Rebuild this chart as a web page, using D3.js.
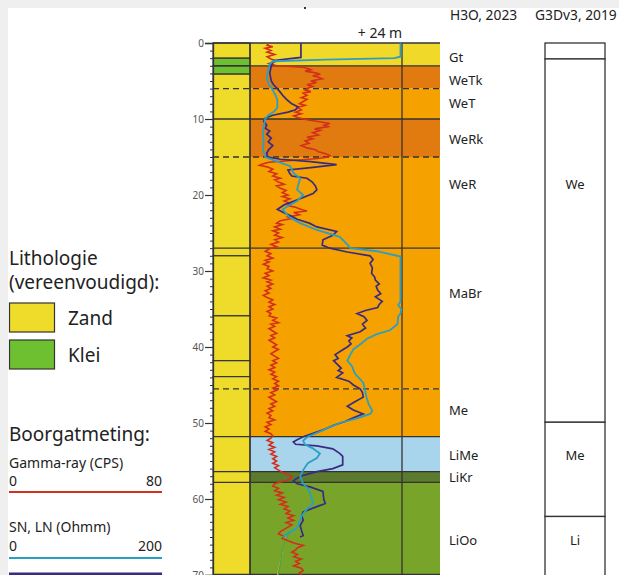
<!DOCTYPE html>
<html><head><meta charset="utf-8">
<script src="https://cdn.jsdelivr.net/npm/d3@7"></script>
<style>
html,body{margin:0;padding:0;background:#fff;}
svg{display:block;font-family:"Noto Sans","Open Sans",sans-serif;}
</style></head>
<body>
<svg id="c" width="619" height="575"></svg>
<script>
// ---------- DATA ----------
const depthTicks = [0,10,20,30,40,50,60,70];
const formations = [
  {name:"Gt",   top:0,    bot:3,    color:"#f1d92a", label:57},
  {name:"WeTk", top:3,    bot:6,    color:"#e17a0f", label:80},
  {name:"WeT",  top:6,    bot:10,   color:"#f5a200", label:103},
  {name:"WeRk", top:10,   bot:15,   color:"#e17a0f", label:139},
  {name:"WeR",  top:15,   bot:27,   color:"#f5a200", label:184},
  {name:"MaBr", top:27,   bot:45.5, color:"#f5a200", label:293},
  {name:"Me",   top:45.5, bot:51.8, color:"#f5a200", label:410},
  {name:"LiMe", top:51.8, bot:56.4, color:"#a9d5ec", label:455},
  {name:"LiKr", top:56.4, bot:57.8, color:"#5b7a2e", label:477},
  {name:"LiOo", top:57.8, bot:70,   color:"#79a42a", label:540}
];
const solidBounds = [3,10,27,51.8,56.4,57.8];
const dashedBounds = [6,15,45.5];
const lithology = [
  {top:0,bot:2.0,type:"Zand"},{top:2.0,bot:3.0,type:"Klei"},{top:3.0,bot:4.1,type:"Klei"},
  {top:4.1,bot:28,type:"Zand"},{top:28,bot:35.9,type:"Zand"},{top:35.9,bot:41.8,type:"Zand"},
  {top:41.8,bot:43.9,type:"Zand"},{top:43.9,bot:70,type:"Zand"}
];
const g3d = [
  {top:0,bot:2.1,name:"",lab:null},
  {top:2.1,bot:49.9,name:"We",lab:184},
  {top:49.9,bot:62.3,name:"Me",lab:455},
  {top:62.3,bot:72,name:"Li",lab:540}
];
// Gamma-ray (CPS) [depth m, value]
const gamma = [[0,10],[0.3,9],[0.5,12],[0.7,8],[1.0,11],[1.2,9],[1.5,13],[1.8,9],[2.1,11],[2.4,14],[2.7,10],[3.0,14],
[3.2,28],[3.5,32],[3.7,29],[3.9,34],[4.1,37],[4.3,33],[4.5,36],[4.7,38],[5.0,32],[5.2,35],[5.5,30],[5.7,33],[5.9,31],
[6.2,29],[6.4,32],[6.6,28],[6.9,30],[7.2,27],[7.4,30],[7.7,28],[8.0,26],[8.2,29],[8.5,25],[8.8,27],[9.1,24],[9.3,27],[9.6,23],[9.8,25],
[10.1,30],[10.3,35],[10.6,42],[10.8,39],[11.0,41],[11.3,34],[11.5,37],[11.8,33],[12.1,36],[12.4,30],[12.6,33],[12.9,29],[13.2,31],[13.5,27],[13.8,30],[14.0,34],[14.3,36],[14.5,39],[14.8,42],[15.0,41],
[15.2,36],[15.5,20],[15.7,10],[15.9,7],[16.1,5],[16.3,9],[16.6,12],[16.9,10],[17.2,14],[17.5,12],[17.8,16],[18.0,13],[18.3,15],[18.6,18],[18.8,14],[19.1,16],[19.4,19],[19.7,17],[20.0,20],[20.2,17],[20.5,21],[20.8,18],[21.1,21],[21.4,20],[21.6,24],[21.9,27],[22.1,30],[22.3,23],[22.6,26],[22.9,20],[23.1,22],[23.4,16],[23.7,14],[23.9,17],[24.2,13],[24.5,16],[24.7,12],[25.0,15],[25.3,13],[25.6,17],[25.9,13],[26.2,15],[26.5,11],[26.8,14],
[27.1,10],[27.4,8],[27.7,11],[28.0,9],[28.3,12],[28.6,8],[28.8,10],[29.1,7],[29.4,10],[29.7,9],[30.0,12],[30.3,8],[30.6,10],[30.9,7],[31.2,11],[31.4,9],[31.7,12],[32.0,9],[32.3,11],[32.6,8],[32.9,10],[33.2,7],[33.5,9],[33.8,12],[34.1,10],[34.4,13],[34.7,10],[35.0,12],[35.3,9],[35.6,11],[35.9,10],[36.2,14],[36.5,12],[36.8,15],[37.0,11],[37.3,13],[37.6,10],[37.9,12],[38.2,14],[38.5,11],[38.8,13],[39.1,10],[39.4,12],[39.7,14],[40.0,12],[40.3,15],[40.6,13],[40.9,11],[41.2,13],[41.5,15],[41.8,12],[42.1,14],[42.4,11],[42.7,13],[43.0,10],[43.3,13],[43.6,11],[43.9,14],[44.2,12],[44.5,15],[44.8,13],[45.1,15],[45.4,12],[45.7,14],[46.0,11],[46.3,13],[46.6,10],[46.9,12],[47.2,14],[47.5,11],[47.8,13],[48.1,10],[48.4,12],[48.7,9],[49.0,11],[49.3,10],[49.6,13],[49.9,9],[50.2,11],[50.5,8],[50.8,10],[51.1,8],[51.4,11],[51.7,12],
[52.0,11],[52.3,9],[52.6,12],[52.9,10],[53.2,13],[53.5,10],[53.8,13],[54.1,11],[54.4,14],[54.7,12],[55.0,14],[55.3,12],[55.6,15],[55.9,13],[56.2,15],[56.5,17],[56.8,20],[57.1,22],[57.4,21],[57.7,17],[58.0,13],[58.3,12],[58.6,15],[58.9,13],[59.2,17],[59.5,14],[59.8,18],[60.1,15],[60.4,19],[60.7,16],[61.0,20],[61.3,18],[61.6,21],[61.9,19],[62.2,23],[62.5,20],[62.8,23],[63.1,19],[63.4,22],[63.7,20],[64.0,18],[64.3,16],[64.6,15],[64.9,18],[65.2,17],[65.5,20],[65.8,23],[66.1,28],[66.4,25],[66.7,24],[67.0,22],[67.3,25],[67.6,23],[67.9,27],[68.2,24],[68.5,26],[68.8,23],[69.1,27],[69.4,28],[69.7,26],[70,27]];
// Long normal resistivity LN (Ohmm)
const ln = [[0,67],[1.9,67],[2.1,50],[2.3,32],[2.6,30],[3.0,28],[3.5,27],[4.0,26],[4.5,27],[5.0,28],[5.5,31],[6.0,36],[6.5,40],[7.0,44],[7.5,49],[8.0,55],[8.4,63],[8.8,60],[9.1,50],[9.5,30],[9.9,20],[10.3,18],[10.8,22],[11.2,20],[11.6,26],[12.0,22],[12.5,28],[13.0,24],[13.5,30],[14.0,25],[14.5,22],[15.0,23],[15.3,40],[15.6,80],[16.0,114],[16.4,80],[16.7,50],[17.1,52],[17.5,55],[17.8,75],[18.3,82],[18.8,86],[19.3,88],[19.8,83],[20.5,66],[21.3,45],[21.9,36],[22.3,44],[22.8,55],[23.2,62],[23.7,78],[24.2,88],[24.8,114],[25.3,109],[25.9,96],[26.6,95],[27.0,105],[27.5,128],[28.0,158],[28.5,162],[29.0,158],[29.6,161],[30.3,160],[30.8,164],[31.2,165],[31.7,170],[32.0,166],[32.5,168],[33.0,172],[33.4,165],[34.0,174],[34.4,170],[34.8,168],[35.2,152],[35.6,141],[36.0,150],[36.5,154],[37.0,148],[37.5,152],[38.0,145],[38.5,128],[38.8,134],[39.2,130],[39.6,133],[40.0,128],[40.5,120],[41.0,112],[41.5,116],[41.8,110],[42.2,114],[42.8,120],[43.1,116],[43.4,122],[44.0,114],[44.5,130],[45.0,136],[45.5,145],[46.0,148],[46.6,149],[47.2,138],[47.8,128],[48.3,136],[48.8,149],[49.3,136],[49.8,125],[50.3,110],[50.8,99],[51.3,85],[51.8,70],[52.2,62],[52.5,57],[52.8,60],[53.0,88],[53.4,109],[54.0,118],[54.4,122],[55.5,122],[56.0,109],[56.4,88],[57.0,66],[57.6,57],[58.0,62],[58.4,79],[59.0,96],[60.0,97],[60.6,99],[61.0,88],[61.7,70],[62.2,68],[62.8,70],[63.5,66],[64.2,68],[64.8,70],[65.0,66]];
// Short normal resistivity SN (Ohmm)
const sn = [[0,198],[1.8,198],[2.0,190],[2.2,100],[2.4,30],[2.8,26],[3.5,24],[4.5,22],[5.5,25],[6.0,29],[7.0,34],[7.5,36],[8.5,36],[9.0,32],[9.5,24],[10.0,20],[11,18],[12,17],[13,18],[14,17],[15,20],[15.6,36],[16.2,53],[17.1,57],[17.8,66],[18.5,64],[19.3,62],[20.0,70],[20.8,62],[21.5,49],[21.9,43],[22.5,48],[23.0,53],[23.7,66],[24.6,88],[25.5,118],[26.5,128],[27.0,132],[27.4,167],[28.1,198],[34.0,198],[34.5,195],[35.0,199],[35.6,198],[36.0,195],[37.0,194],[37.8,184],[38.3,167],[38.9,154],[39.5,147],[40.3,136],[41.0,132],[41.8,128],[42.5,134],[43.5,138],[44.7,149],[45.5,151],[46.5,153],[47.5,156],[48.4,161],[48.8,158],[49.4,141],[50.0,118],[50.5,106],[51.0,95],[51.8,76],[52.3,70],[52.8,72],[53.3,82],[54.0,92],[54.6,88],[55.3,76],[56.2,70],[57.0,66],[58.0,70],[58.6,76],[59.5,80],[60.6,83],[61.2,76],[62.2,68],[62.8,66],[63.8,62],[64.5,50],[65.0,43]];
const extraGreen = [[64.3,52],[65.5,46],[67,42],[68.5,40],[70,37]];
const extraOrange = [[64.8,48],[66.2,44],[67.8,41],[70,36]];
const gammaDomain = [0,80];
const resDomain = [0,200];

// ---------- DRAW ----------
const svg = d3.select("#c");
const y = d3.scaleLinear().domain([0,70]).range([43,575]);
const xG = d3.scaleLinear().domain(gammaDomain).range([250,402]);
const xR = d3.scaleLinear().domain(resDomain).range([250,402]);
const axisX = 213, lithR = 250, logR = 402, panelR = 440;

// frame
svg.append("rect").attr("x",0).attr("y",0).attr("width",619).attr("height",575).attr("fill","#fff");
svg.append("rect").attr("x",0).attr("y",0).attr("width",619).attr("height",8).attr("fill","#efefef");
svg.append("rect").attr("x",0).attr("y",0).attr("width",8).attr("height",575).attr("fill","#efefef");
svg.append("rect").attr("x",304).attr("y",7).attr("width",2).attr("height",2).attr("fill","#333");

// formation bands
svg.selectAll("rect.form").data(formations).join("rect").attr("class","form")
  .attr("x",lithR).attr("y",d=>y(d.top)).attr("width",panelR-lithR).attr("height",d=>y(d.bot)-y(d.top))
  .attr("fill",d=>d.color);
// lithology
const lithCol = {Zand:"#efdc2a", Klei:"#6ec030"};
svg.selectAll("rect.lith").data(lithology).join("rect").attr("class","lith")
  .attr("x",axisX).attr("y",d=>y(d.top)).attr("width",lithR-axisX).attr("height",d=>y(d.bot)-y(d.top))
  .attr("fill",d=>lithCol[d.type]).attr("stroke","#333").attr("stroke-width",1.2);

// boundaries
svg.selectAll("line.sb").data(solidBounds).join("line").attr("class","sb")
  .attr("x1",axisX).attr("x2",panelR).attr("y1",d=>y(d)).attr("y2",d=>y(d))
  .attr("stroke","#333").attr("stroke-width",1.3);
svg.selectAll("line.db").data(dashedBounds).join("line").attr("class","db")
  .attr("x1",axisX).attr("x2",panelR).attr("y1",d=>y(d)).attr("y2",d=>y(d))
  .attr("stroke","#333").attr("stroke-width",1.3).attr("stroke-dasharray","6,4");
svg.append("line").attr("x1",axisX).attr("x2",panelR).attr("y1",y(0)).attr("y2",y(0)).attr("stroke","#333").attr("stroke-width",1.3);
svg.append("line").attr("x1",axisX).attr("x2",panelR).attr("y1",y(70)-0.5).attr("y2",y(70)-0.5).attr("stroke","#333").attr("stroke-width",1.3);
[lithR, logR].forEach(xx=>svg.append("line").attr("x1",xx).attr("x2",xx).attr("y1",y(0)).attr("y2",y(70)).attr("stroke","#333").attr("stroke-width",1.3));

// curves
svg.append("clipPath").attr("id","cp").append("rect").attr("x",lithR).attr("y",y(0)).attr("width",panelR-lithR).attr("height",y(70)-y(0));
const cg = svg.append("g").attr("clip-path","url(#cp)");
const lineG = d3.line().x(d=>xG(d[1])).y(d=>y(d[0]));
const lineR = d3.line().x(d=>xR(d[1])).y(d=>y(d[0]));
cg.append("path").attr("d",lineR(extraOrange)).attr("fill","none").attr("stroke","#e8a030").attr("stroke-width",1.2);
cg.append("path").attr("d",lineR(extraGreen)).attr("fill","none").attr("stroke","#3aa84a").attr("stroke-width",1.2);
cg.append("path").attr("d",lineG(gamma)).attr("fill","none").attr("stroke","#d42e1c").attr("stroke-width",1.6);
cg.append("path").attr("d",lineR(ln)).attr("fill","none").attr("stroke","#3a2a82").attr("stroke-width",1.7);
cg.append("path").attr("d",lineR(sn)).attr("fill","none").attr("stroke","#2a9fc4").attr("stroke-width",1.8);

// axis
const ax = svg.append("g").attr("transform",`translate(${axisX},0)`)
  .call(d3.axisLeft(y).tickValues(depthTicks).tickSize(8).tickPadding(1));
ax.select(".domain").attr("stroke","#333").attr("stroke-width",1.3);
ax.selectAll(".tick line").attr("stroke","#333").attr("stroke-width",1.2);
ax.selectAll(".tick text").attr("font-size",10).attr("fill","#555").attr("font-family","Noto Sans, sans-serif");
const minor = svg.append("g").attr("transform",`translate(${axisX},0)`)
  .call(d3.axisLeft(y).tickValues(d3.range(0,71,1).filter(v=>v%10)).tickSize(3).tickFormat(""));
minor.select(".domain").remove();
minor.selectAll(".tick line").attr("stroke","#333").attr("stroke-width",1);

svg.append("text").attr("x",380).attr("y",38).attr("text-anchor","middle").attr("font-size",14).attr("fill","#222").text("+ 24 m");

// formation labels
svg.selectAll("text.fl").data(formations).join("text").attr("class","fl")
  .attr("x",449).attr("y",d=>d.label).attr("dy","0.35em").attr("font-size",13).attr("fill","#222").text(d=>d.name);

// headers
svg.append("text").attr("x",450).attr("y",20).attr("font-size",13.8).attr("fill","#222").text("H3O, 2023");
svg.append("text").attr("x",535).attr("y",20).attr("font-size",13.8).attr("fill","#222").text("G3Dv3, 2019");

// G3D column
svg.selectAll("rect.g3").data(g3d).join("rect").attr("class","g3")
  .attr("x",545).attr("y",d=>y(d.top)).attr("width",60).attr("height",d=>y(d.bot)-y(d.top))
  .attr("fill","#fff").attr("stroke","#333").attr("stroke-width",1.3);
svg.selectAll("text.g3l").data(g3d.filter(d=>d.lab)).join("text").attr("class","g3l")
  .attr("x",575).attr("y",d=>d.lab).attr("dy","0.35em").attr("text-anchor","middle").attr("font-size",13).attr("fill","#222").text(d=>d.name);

// legend
const L = svg.append("g");
L.append("text").attr("x",9).attr("y",265).attr("font-size",19).attr("fill","#222").text("Lithologie");
L.append("text").attr("x",9).attr("y",289).attr("font-size",19).attr("fill","#222").text("(vereenvoudigd):");
L.append("rect").attr("x",9.5).attr("y",303).attr("width",45).attr("height",29).attr("fill",lithCol.Zand).attr("stroke","#333").attr("stroke-width",1.2);
L.append("text").attr("x",68).attr("y",325).attr("font-size",19).attr("fill","#222").text("Zand");
L.append("rect").attr("x",9.5).attr("y",340).attr("width",45).attr("height",29).attr("fill",lithCol.Klei).attr("stroke","#333").attr("stroke-width",1.2);
L.append("text").attr("x",68).attr("y",362).attr("font-size",19).attr("fill","#222").text("Klei");
L.append("text").attr("x",9).attr("y",441).attr("font-size",19).attr("fill","#222").text("Boorgatmeting:");
L.append("text").attr("x",9).attr("y",468).attr("font-size",14).attr("fill","#222").text("Gamma-ray (CPS)");
L.append("text").attr("x",9).attr("y",486).attr("font-size",14).attr("fill","#222").text(gammaDomain[0]);
L.append("text").attr("x",162).attr("y",486).attr("text-anchor","end").attr("font-size",14).attr("fill","#222").text(gammaDomain[1]);
L.append("line").attr("x1",9).attr("x2",162).attr("y1",492).attr("y2",492).attr("stroke","#d42e1c").attr("stroke-width",2);
L.append("text").attr("x",9).attr("y",532).attr("font-size",14).attr("fill","#222").text("SN, LN (Ohmm)");
L.append("text").attr("x",9).attr("y",551).attr("font-size",14).attr("fill","#222").text(resDomain[0]);
L.append("text").attr("x",162).attr("y",551).attr("text-anchor","end").attr("font-size",14).attr("fill","#222").text(resDomain[1]);
L.append("line").attr("x1",9).attr("x2",162).attr("y1",558).attr("y2",558).attr("stroke","#2a9fc4").attr("stroke-width",2);
L.append("line").attr("x1",9).attr("x2",162).attr("y1",574).attr("y2",574).attr("stroke","#3a2a82").attr("stroke-width",3);
</script>
</body></html>
